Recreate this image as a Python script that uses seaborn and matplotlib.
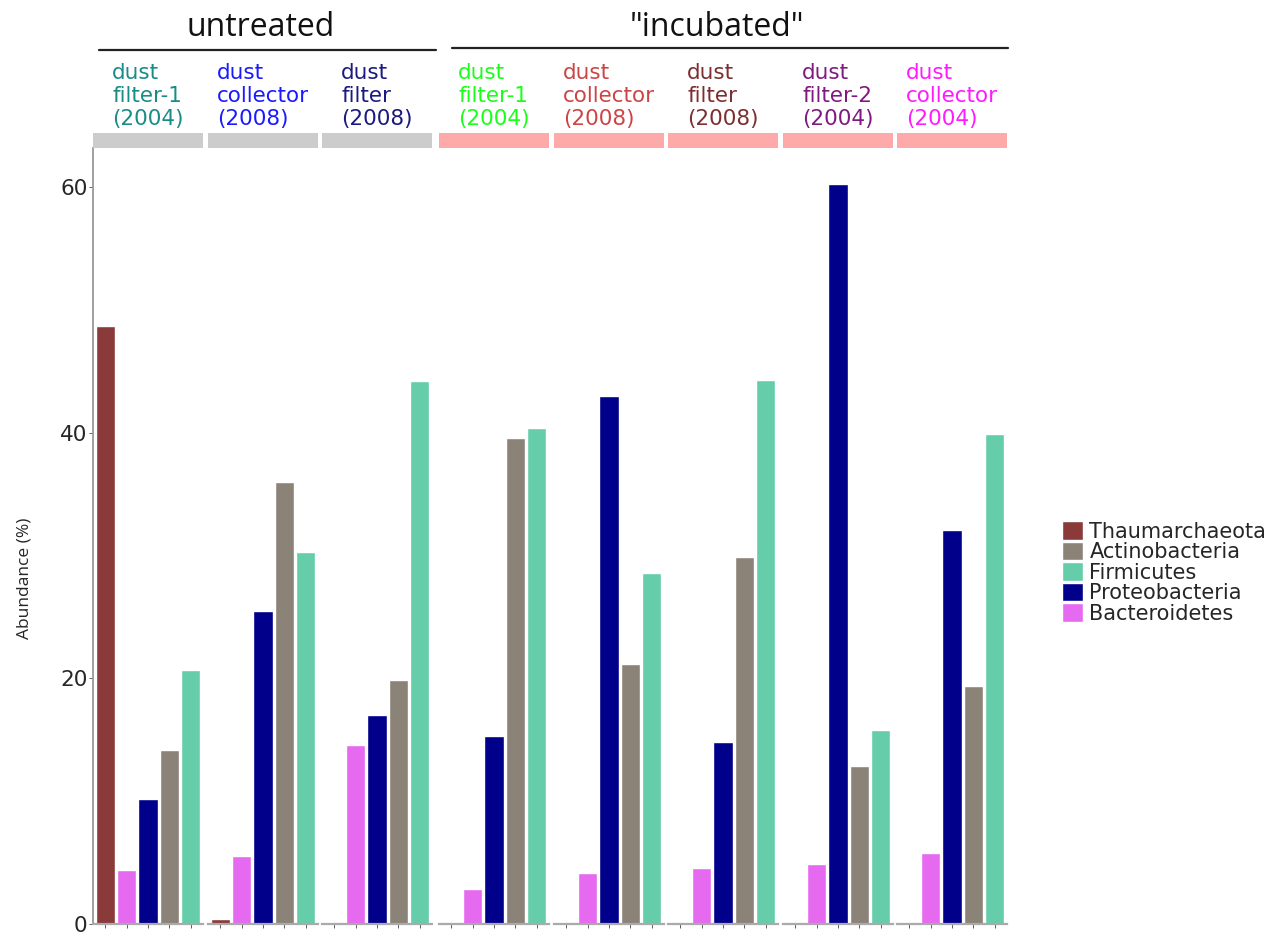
import numpy as np
import pandas as pd
import matplotlib
matplotlib.use("Agg")
import matplotlib.pyplot as plt
from matplotlib.patches import Patch, Rectangle
from matplotlib.lines import Line2D
import seaborn as sns

# samples (facets), left to right
samples = ["dust\nfilter-1\n(2004)", "dust\ncollector\n(2008)", "dust\nfilter\n(2008)",
           "dust\nfilter-1\n(2004)", "dust\ncollector\n(2008)", "dust\nfilter\n(2008)",
           "dust\nfilter-2\n(2004)", "dust\ncollector\n(2004)"]
sample_colors = ["#1a8c86", "#1a1aff", "#1a1a80", "#1aff1a",
                 "#cc4444", "#7d2e2e", "#801a80", "#ff1aff"]
treatment = ["untreated"] * 3 + ["incubated"] * 5

phyla = ["Thaumarchaeota", "Bacteroidetes", "Proteobacteria", "Actinobacteria", "Firmicutes"]
legend_order = ["Thaumarchaeota", "Actinobacteria", "Firmicutes", "Proteobacteria", "Bacteroidetes"]
palette = {"Thaumarchaeota": "#8B3A3A", "Actinobacteria": "#8B8378",
           "Firmicutes": "#66CDAA", "Proteobacteria": "#00008B",
           "Bacteroidetes": "#E66AF0"}

# abundance (%) per sample, in phyla order
thaumarchaeota = [48.7, 0.4, 0.0, 0.0, 0.0, 0.0, 0.0, 0.0]
bacteroidetes = [4.4, 5.5, 14.6, 2.85, 4.15, 4.6, 4.9, 5.8]
proteobacteria = [10.2, 25.5, 17.0, 15.3, 43.0, 14.8, 60.3, 32.1]
actinobacteria = [14.2, 36.0, 19.9, 39.6, 21.2, 29.9, 12.9, 19.4]
firmicutes = [20.7, 30.3, 44.2, 40.4, 28.6, 44.3, 15.8, 39.9]

rows = []
for i in range(len(samples)):
    vals = [thaumarchaeota[i], bacteroidetes[i], proteobacteria[i],
            actinobacteria[i], firmicutes[i]]
    for p, v in zip(phyla, vals):
        rows.append({"sample": i, "phylum": p, "abundance": v})
df = pd.DataFrame(rows)

sns.set_style("white")
plt.rcParams["font.family"] = ["DejaVu Sans"]

W, H = 1273, 932
fig = plt.figure(figsize=(W / 100, H / 100), dpi=100)

lefts = [93, 208, 322, 439, 554, 668, 783, 897]
pw = 110
y0, ytop = 924, 148
ymax = 63.2

for i, lx in enumerate(lefts):
    ax = fig.add_axes([lx / W, (H - y0) / H, pw / W, (y0 - ytop) / H])
    sub = df[df["sample"] == i]
    sns.barplot(data=sub, x="phylum", y="abundance", hue="phylum", order=phyla,
                hue_order=phyla, palette=palette, width=0.92, edgecolor="white",
                linewidth=1.0, saturation=1, legend=False, ax=ax)
    ax.set_xlim(-0.58, 4.58)
    ax.set_ylim(0, ymax)
    ax.set_xlabel("")
    ax.set_ylabel("")
    ax.set_xticklabels([])
    ax.tick_params(axis="x", bottom=True, length=3, width=0.6, color="#444444",
                   direction="out")
    for s in ["top", "right"]:
        ax.spines[s].set_visible(False)
    ax.spines["bottom"].set_color("#aaaaaa")
    ax.spines["bottom"].set_linewidth(1.6)
    if i == 0:
        ax.spines["left"].set_color("#999999")
        ax.spines["left"].set_linewidth(1.3)
        ax.set_yticks([0, 20, 40, 60])
        ax.tick_params(axis="y", left=True, length=3, width=0.6, color="#444444",
                       labelsize=15.5, pad=1)
    else:
        ax.spines["left"].set_visible(False)
        ax.set_yticks([])
    ax.patch.set_alpha(0)

    # strip
    scol = "#cccccc" if treatment[i] == "untreated" else "#ffaaaa"
    fig.add_artist(Rectangle((lx / W, (H - 148) / H), pw / W, 15 / H,
                             transform=fig.transFigure, color=scol, lw=0))
    fig.text((lx + pw / 2) / W, (H - 96) / H, samples[i], color=sample_colors[i],
             ha="center", va="center", multialignment="left", fontsize=15.5,
             linespacing=1.17)

# treatment headers
fig.text(261 / W, (H - 27) / H, "untreated", ha="center", va="center", fontsize=23,
         family="Open Sans", color="#111111")
fig.text(717 / W, (H - 27) / H, '"incubated"', ha="center", va="center", fontsize=23,
         family="Open Sans", color="#111111")
fig.add_artist(Line2D([99 / W, 436 / W], [(H - 50) / H] * 2, color="#222222", lw=1.6))
fig.add_artist(Line2D([452 / W, 1008 / W], [(H - 48) / H] * 2, color="#222222", lw=1.6))

fig.text(25 / W, (H - 578) / H, "Abundance (%)", rotation=90, ha="center",
         va="center", fontsize=12.5, family="Open Sans")

handles = [Patch(facecolor=palette[p], edgecolor="white", label=p) for p in legend_order]
fig.legend(handles=handles, loc="upper left", bbox_to_anchor=(1054 / W, 1 - 513 / H),
           frameon=False, fontsize=15, handlelength=1.0, handleheight=1.0,
           labelspacing=0.0, handletextpad=0.3, borderaxespad=0)

fig.savefig("out.png", dpi=100)
